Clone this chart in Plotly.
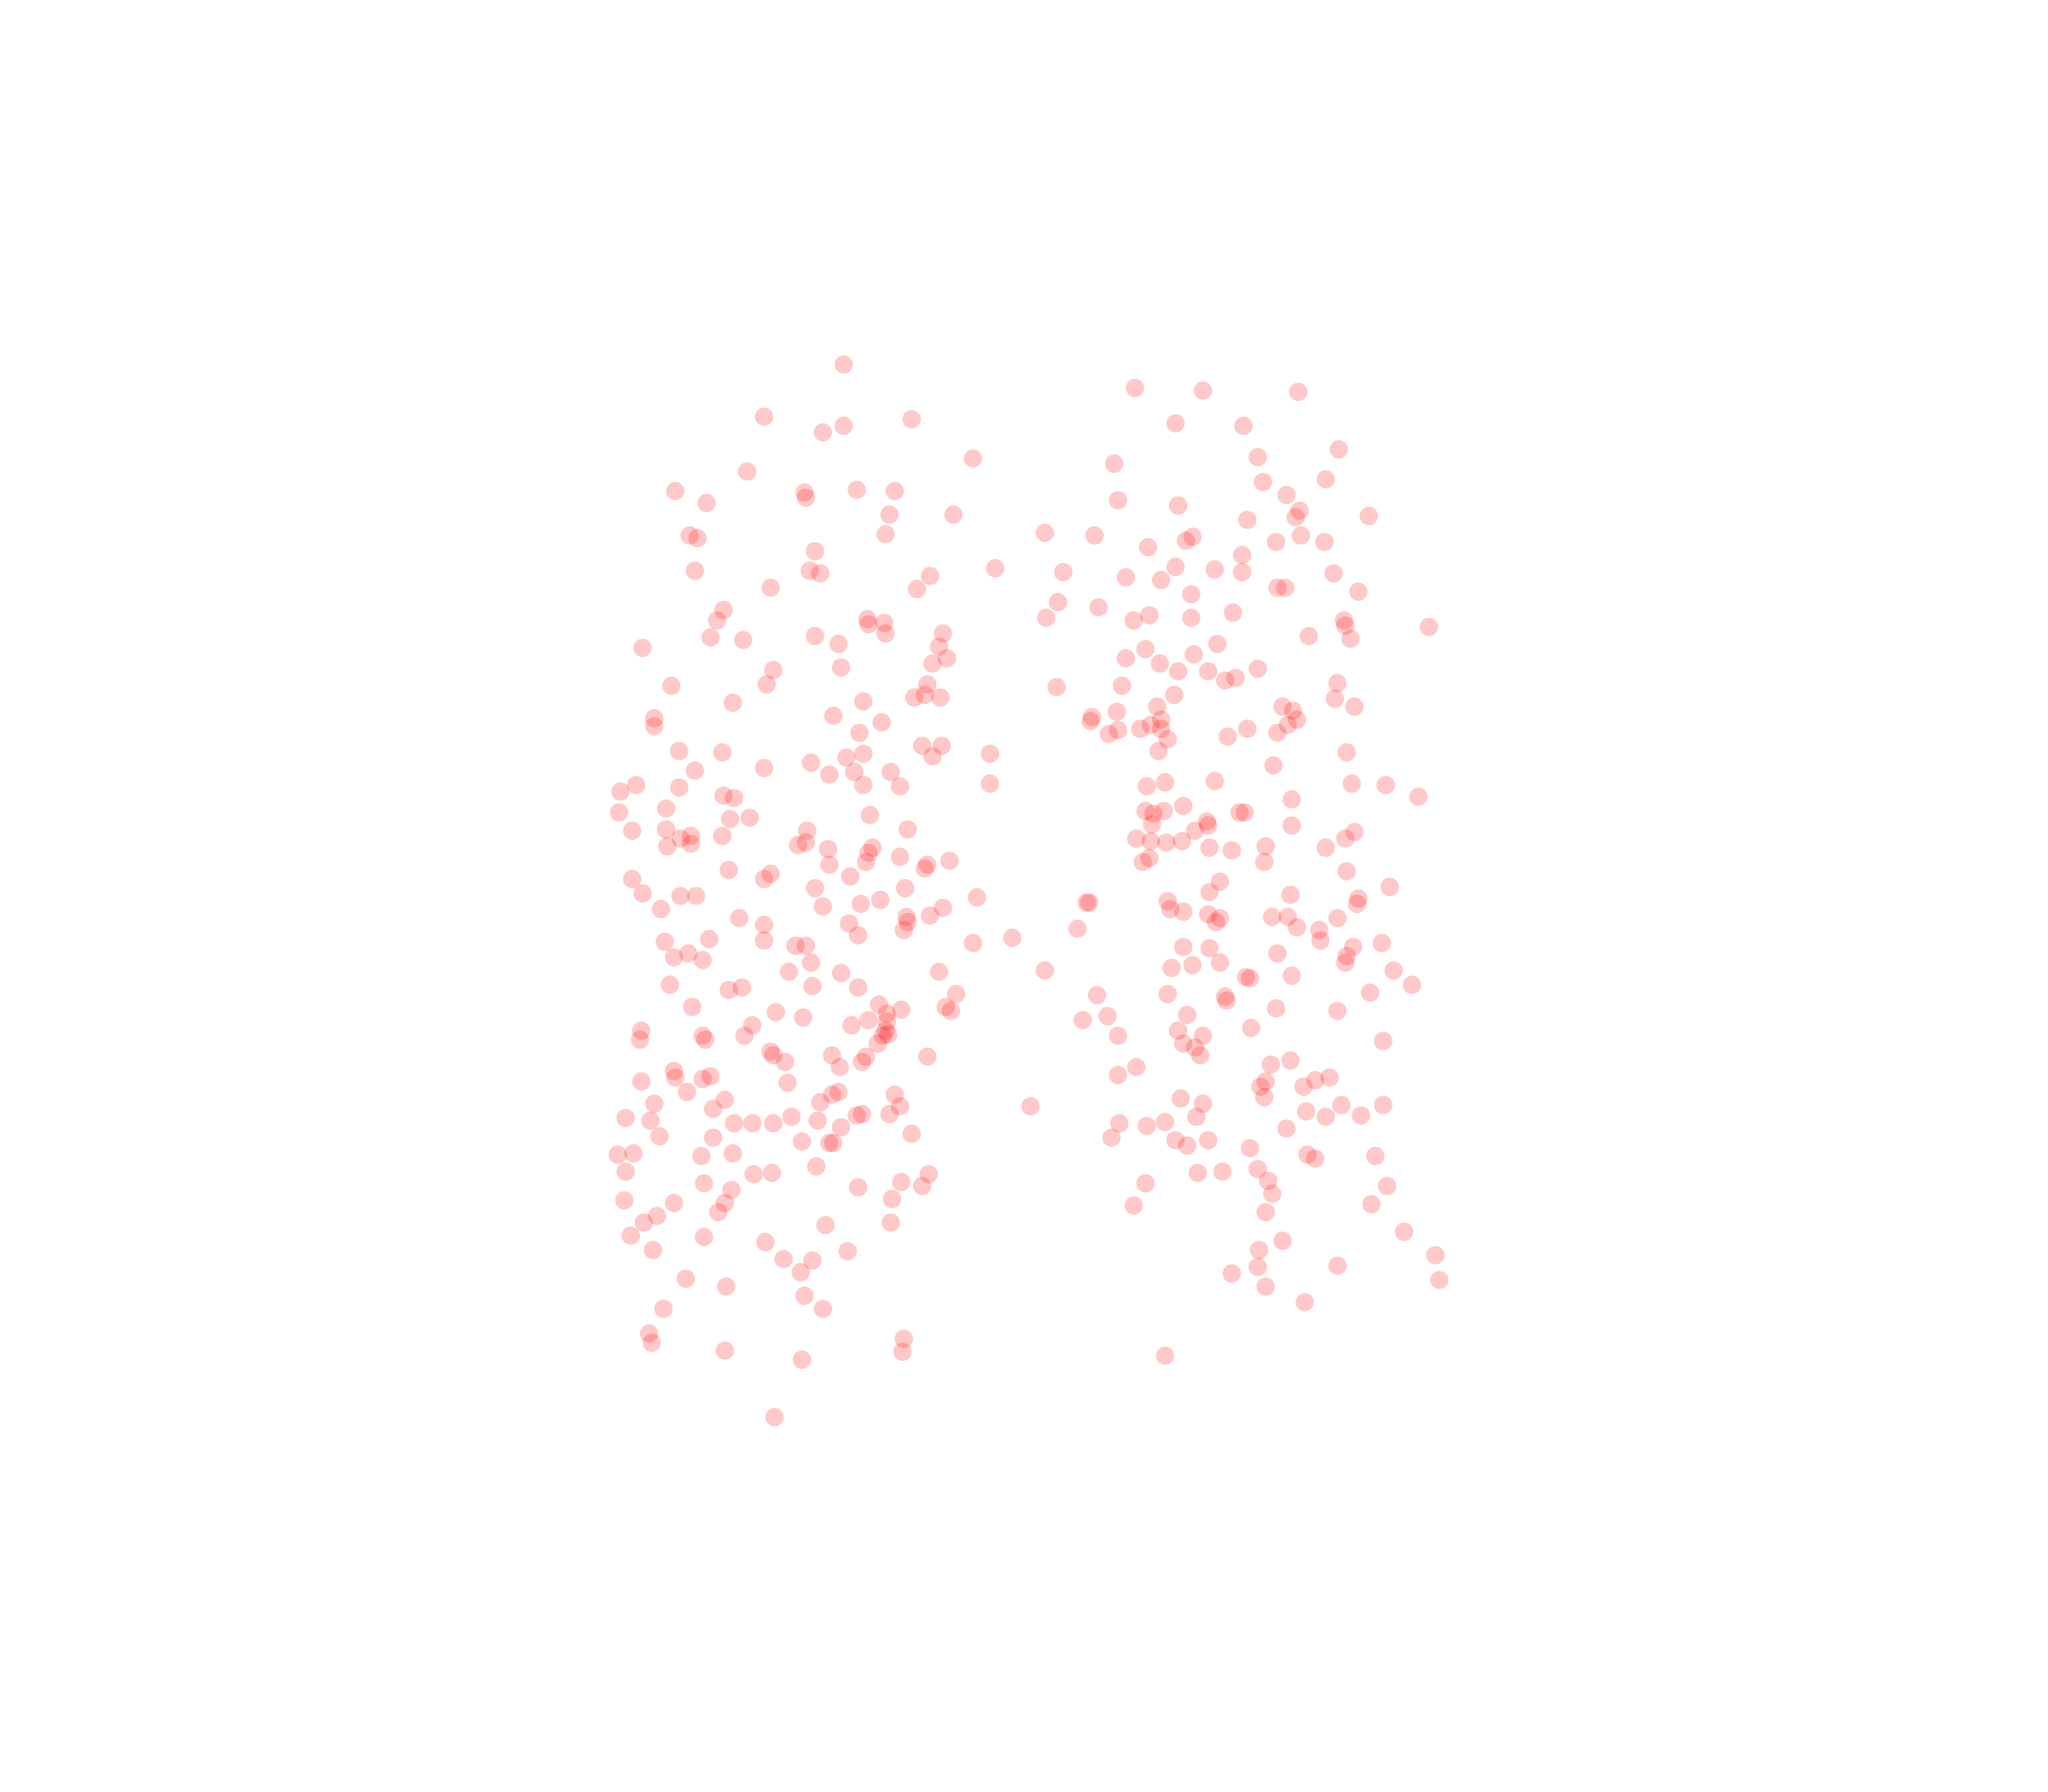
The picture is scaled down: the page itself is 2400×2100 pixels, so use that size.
import plotly.graph_objects as go

left_points = [
(646,279),(585,319),(630,331),(646,326),(698,321),(745,351),(572,361),(517,376),(541,385),(616,377),(617,381),(656,375),(685,376),(681,394),(730,394),(528,410),(534,412),(678,409),(624,422),(532,437),(620,437),(628,439),(712,441),(702,451),(590,450),(762,435),(554,467),(549,475),(544,488),(569,490),(492,496),(664,474),(665,478),(677,477),(678,485),(722,485),(719,495),(725,504),(714,508),(624,487),(642,493),(644,511),(592,513),(587,524),(514,525),(561,538),(710,524),(708,532),(700,534),(720,534),(661,537),(638,548),(675,553),(658,561),(501,550),(501,556),(706,571),(721,571),(714,579),(758,577),(520,575),(553,576),(585,588),(621,584),(648,580),(661,577),(635,593),(654,591),(682,591),(689,602),(661,601),(532,590),(758,600),(487,601),(475,606),(520,603),(554,609),(562,611),(474,622),(510,619),(559,627),(574,626),(666,624),(510,635),(484,636),(521,642),(529,640),(529,646),(511,648),(553,640),(618,636),(611,647),(617,645),(634,650),(668,649),(665,653),(663,660),(695,635),(689,656),(635,662),(710,662),(708,665),(727,659),(558,666),(590,669),(585,673),(651,671),(484,673),(492,684),(521,686),(533,686),(624,680),(693,680),(748,687),(506,696),(630,694),(659,692),(674,689),(722,695),(712,701),(694,702),(695,706),(692,712),(566,703),(585,708),(650,707),(657,716),(585,720),(509,721),(543,719),(609,724),(617,724),(745,722),(775,718),(527,730),(516,733),(538,735),(621,737),(604,744),(644,745),(719,744),(800,743),(513,754),(558,758),(568,756),(622,755),(657,756),(732,761),(530,771),(594,775),(615,779),(673,769),(679,776),(690,773),(724,771),(728,774),(679,782),(652,785),(665,781),(576,785),(491,789),(490,796),(538,793),(540,796),(570,793),(678,789),(680,792),(676,793),(672,799),(590,805),(592,808),(601,813),(637,808),(643,817),(660,813),(663,809),(710,809),(516,820),(517,825),(491,828),(538,826),(544,824),(603,829),(526,836),(637,838),(642,836),(685,838),(689,847),(555,842),(501,845),(546,849),(628,844),(656,854),(660,853),(681,853),(479,856),(498,858),(562,860),(576,860),(592,860),(606,855),(626,858),(644,863),(698,868),(505,870),(546,871),(614,874),(635,875),(638,875),(473,884),(485,883),(537,885),(561,883),(625,893),(479,897),(577,899),(591,898),(711,899),(690,905),(706,908),(539,906),(560,911),(657,909),(478,919),(516,921),(683,918),(555,921),(550,928),(503,931),(493,936),(682,936),(632,938),(483,946),(539,947),(586,951),(500,957),(649,958),(600,964),(622,965),(613,974),(525,979),(556,985),(616,992),(630,1002),(508,1002),(497,1021),(499,1028),(692,1025),(691,1035),(555,1034),(614,1041),(593,1085),
]

right_points = [
(869,297),(921,299),(994,300),(900,324),(952,326),(1025,344),(963,350),(853,355),(967,369),(1015,367),(985,379),(856,383),(902,387),(995,391),(992,396),(955,398),(1048,395),(800,408),(838,410),(913,411),(908,414),(996,410),(977,415),(1014,415),(879,419),(951,425),(814,438),(862,442),(889,444),(900,434),(930,436),(951,438),(1021,439),(978,450),(984,450),(1040,453),(912,455),(810,461),(841,465),(801,473),(868,475),(880,471),(912,473),(944,469),(1029,475),(1030,479),(1094,480),(1002,487),(1034,489),(877,497),(932,493),(914,501),(862,504),(888,508),(902,514),(925,514),(963,512),(946,519),(938,521),(1024,523),(809,526),(859,525),(899,532),(1022,535),(1037,541),(886,541),(982,541),(990,544),(855,545),(836,549),(835,552),(993,551),(986,555),(889,551),(881,555),(889,558),(873,558),(856,559),(849,562),(955,558),(978,561),(940,564),(894,566),(887,575),(1031,576),(975,586),(892,599),(930,598),(878,602),(1035,600),(1061,601),(1086,610),(989,612),(906,617),(877,621),(883,623),(891,621),(949,622),(953,622),(882,631),(924,629),(925,632),(915,636),(989,632),(1037,637),(870,642),(881,644),(893,645),(905,644),(1030,642),(926,649),(943,651),(969,648),(1015,649),(880,657),(875,660),(968,660),(1031,667),(934,675),(926,683),(1064,679),(988,685),(1040,688),(1039,692),(832,691),(834,691),(894,690),(896,696),(906,698),(925,700),(934,703),(931,706),(974,702),(986,702),(1024,703),(993,710),(1010,712),(1011,720),(825,711),(906,725),(926,726),(1036,725),(1058,722),(978,730),(1031,732),(1030,737),(913,739),(934,737),(897,741),(1067,743),(954,748),(957,749),(989,747),(1081,754),(840,762),(894,761),(1049,760),(938,763),(939,766),(977,772),(1024,774),(829,781),(848,778),(909,777),(902,789),(958,787),(921,793),(856,793),(906,799),(915,802),(919,808),(1059,797),(973,815),(988,812),(856,823),(870,817),(1007,827),(1018,825),(969,828),(965,832),(998,832),(968,840),(904,841),(921,845),(789,847),(1027,846),(1059,846),(1000,851),(916,855),(1015,855),(1042,854),(857,860),(878,862),(892,859),(985,864),(851,871),(900,873),(909,877),(925,873),(957,879),(1001,884),(1007,887),(1053,885),(963,895),(917,898),(936,897),(971,904),(877,906),(1062,908),(974,914),(868,923),(1050,922),(969,928),(1075,943),(982,950),(964,957),(1099,961),(963,970),(1024,969),(943,975),(1102,980),(969,985),(999,997),(892,1038),
]

all_points = left_points + right_points
x_values = [p[0] for p in all_points]
y_values = [p[1] for p in all_points]

fig = go.Figure(
    go.Scatter(
        x=x_values,
        y=y_values,
        mode="markers",
        marker=dict(color="red", size=21.5, opacity=0.21, line=dict(width=0)),
        hoverinfo="skip",
    )
)
fig.update_layout(
    width=2392,
    height=2092,
    margin=dict(l=0, r=0, t=0, b=0),
    paper_bgcolor="white",
    plot_bgcolor="white",
    showlegend=False,
    xaxis=dict(range=[5.23, 1568], visible=False, fixedrange=True),
    yaxis=dict(range=[1372, 5.23], visible=False, fixedrange=True),
)
fig.write_html("out.html")
